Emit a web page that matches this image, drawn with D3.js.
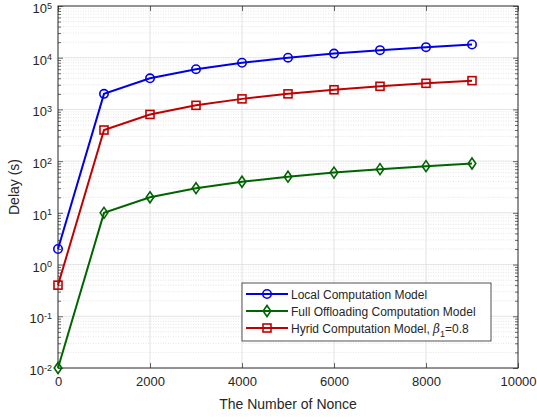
<!DOCTYPE html>
<html>
<head>
<meta charset="utf-8">
<script src="https://cdn.jsdelivr.net/npm/d3@7"></script>
<style>
  body { margin: 0; background: #fff; }
  svg text { font-family: "Liberation Sans", Arial, sans-serif; fill: #262626; }
</style>
</head>
<body>
<script>
// data
const nonce = [0, 1000, 2000, 3000, 4000, 5000, 6000, 7000, 8000, 9000];
const localDelay = [2, 2000, 4000, 6000, 8000, 10000, 12000, 14000, 16000, 18000];
const fullDelay = [0.01, 10, 20, 30, 40, 50, 60, 70, 80, 90];
const hybridDelay = [0.4, 400, 800, 1200, 1600, 2000, 2400, 2800, 3200, 3600];
const xTicks = [0, 2000, 4000, 6000, 8000, 10000];
const yExponents = [-2, -1, 0, 1, 2, 3, 4, 5];
const seriesNames = ["Local Computation Model", "Full Offloading Computation Model", "Hyrid Computation Model, "];

const width = 537, height = 419;
const margin = {top: 6, right: 19, bottom: 51, left: 58};

const svg = d3.select("body").append("svg")
    .attr("width", width)
    .attr("height", height);

const x = d3.scaleLinear().domain([0, 10000]).range([margin.left, width - margin.right]);
const y = d3.scaleLog().domain([1e-2, 1e5]).range([height - margin.bottom, margin.top]);

const x0 = x.range()[0], x1 = x.range()[1];
const y0 = y.range()[0], y1 = y.range()[1];

// minor grid (dotted)
let minors = [];
yExponents.slice(0, -1).forEach(e => {
    for (let k = 2; k <= 9; k++) minors.push(k * Math.pow(10, e));
});
svg.append("g").selectAll("line").data(minors).enter().append("line")
    .attr("x1", x0).attr("x2", x1)
    .attr("y1", d => y(d)).attr("y2", d => y(d))
    .attr("stroke", "#d4d4d4").attr("stroke-width", 0.6)
    .attr("stroke-dasharray", "1,1.5");

// major grid
svg.append("g").selectAll("line").data(yExponents.slice(1, -1)).enter().append("line")
    .attr("x1", x0).attr("x2", x1)
    .attr("y1", d => y(Math.pow(10, d))).attr("y2", d => y(Math.pow(10, d)))
    .attr("stroke", "#dcdcdc").attr("stroke-width", 0.8);
svg.append("g").selectAll("line").data(xTicks.slice(1, -1)).enter().append("line")
    .attr("x1", d => x(d)).attr("x2", d => x(d))
    .attr("y1", y0).attr("y2", y1)
    .attr("stroke", "#dcdcdc").attr("stroke-width", 0.8);

// axes (ticks inward, MATLAB box)
const tickCol = "#262626";
const xAxis = d3.axisBottom(x).tickValues(xTicks).tickSize(-5).tickPadding(9).tickFormat(d3.format("d"));
const gx = svg.append("g").attr("transform", "translate(0," + y0 + ")").call(xAxis);
const xAxisTop = d3.axisTop(x).tickValues(xTicks).tickSize(-5).tickFormat("");
svg.append("g").attr("transform", "translate(0," + y1 + ")").call(xAxisTop);

const yMajor = yExponents.map(e => Math.pow(10, e));
const yAxis = d3.axisLeft(y).tickValues(yMajor).tickSize(-5).tickFormat("");
svg.append("g").attr("transform", "translate(" + x0 + ",0)").call(yAxis);
const yAxisMinor = d3.axisLeft(y).tickValues(minors).tickSize(-3).tickFormat("");
svg.append("g").attr("transform", "translate(" + x0 + ",0)").call(yAxisMinor);
const yAxisR = d3.axisRight(y).tickValues(yMajor).tickSize(-5).tickFormat("");
svg.append("g").attr("transform", "translate(" + x1 + ",0)").call(yAxisR);
const yAxisRMinor = d3.axisRight(y).tickValues(minors).tickSize(-3).tickFormat("");
svg.append("g").attr("transform", "translate(" + x1 + ",0)").call(yAxisRMinor);

svg.selectAll(".domain").remove();
svg.selectAll(".tick line").attr("stroke", tickCol).attr("stroke-width", 0.7);
gx.selectAll("text").attr("font-size", 13).attr("fill", "#262626");

// box
svg.append("rect")
    .attr("x", x0).attr("y", y1)
    .attr("width", x1 - x0).attr("height", y0 - y1)
    .attr("fill", "none").attr("stroke", tickCol).attr("stroke-width", 1);

// y tick labels 10^n
const yl = svg.append("g");
yExponents.forEach(e => {
    const t = yl.append("text")
        .attr("x", x0 - 6)
        .attr("y", y(Math.pow(10, e)) + 7)
        .attr("text-anchor", "end")
        .attr("font-size", 13);
    t.append("tspan").text("10");
    t.append("tspan").attr("dy", -4.5).attr("font-size", 9).text(e);
});

// axis labels
svg.append("text")
    .attr("x", (x0 + x1) / 2).attr("y", 409)
    .attr("text-anchor", "middle").attr("font-size", 14)
    .text("The Number of Nonce");
svg.append("text")
    .attr("transform", "translate(19," + ((y0 + y1) / 2) + ") rotate(-90)")
    .attr("text-anchor", "middle").attr("font-size", 14)
    .text("Delay (s)");

// series
const series = [
    {name: seriesNames[0], values: localDelay, color: "#0000e6", marker: "circle"},
    {name: seriesNames[1], values: fullDelay, color: "#006400", marker: "diamond"},
    {name: seriesNames[2], values: hybridDelay, color: "#c00000", marker: "square"}
];

const line = d3.line().x(d => x(d[0])).y(d => y(d[1]));

function drawMarker(g, type, cx, cy, color) {
    if (type === "circle") {
        g.append("circle").attr("cx", cx).attr("cy", cy).attr("r", 4.2)
            .attr("fill", "none").attr("stroke", color).attr("stroke-width", 1.6);
    } else if (type === "square") {
        g.append("rect").attr("x", cx - 4).attr("y", cy - 4).attr("width", 8).attr("height", 8)
            .attr("fill", "none").attr("stroke", color).attr("stroke-width", 1.6);
    } else {
        g.append("path")
            .attr("d", "M" + cx + "," + (cy - 5.5) + "L" + (cx + 3.8) + "," + cy +
                "L" + cx + "," + (cy + 5.5) + "L" + (cx - 3.8) + "," + cy + "Z")
            .attr("fill", "none").attr("stroke", color).attr("stroke-width", 1.6);
    }
}

series.forEach(s => {
    const pts = nonce.map((n, i) => [n, s.values[i]]);
    svg.append("path").datum(pts)
        .attr("d", line).attr("fill", "none")
        .attr("stroke", s.color).attr("stroke-width", 2);
    const g = svg.append("g");
    pts.forEach(p => drawMarker(g, s.marker, x(p[0]), y(p[1]), s.color));
});

// legend
const lg = svg.append("g");
lg.append("rect").attr("x", 242).attr("y", 283).attr("width", 249).attr("height", 58)
    .attr("fill", "#fff").attr("stroke", tickCol).attr("stroke-width", 0.8);
series.forEach((s, i) => {
    const ly = 294 + i * 17;
    lg.append("line").attr("x1", 246).attr("x2", 288).attr("y1", ly).attr("y2", ly)
        .attr("stroke", s.color).attr("stroke-width", 2);
    drawMarker(lg, s.marker, 267, ly, s.color);
    const t = lg.append("text").attr("x", 291).attr("y", ly + 4.5).attr("font-size", 12).text(s.name);
    if (i === 2) {
        t.append("tspan").attr("font-family", "DejaVu Serif, serif").attr("font-style", "italic").text("\u03b2");
        t.append("tspan").attr("dy", 4).attr("font-size", 9).text("1");
        t.append("tspan").attr("dy", -4).text("=0.8");
    }
});
</script>
</body>
</html>
